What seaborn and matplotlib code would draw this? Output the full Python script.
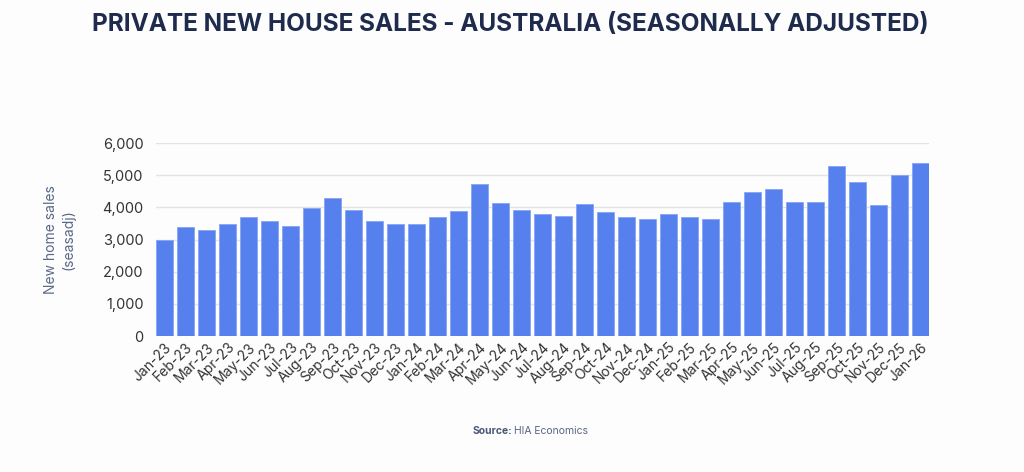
import matplotlib
matplotlib.use("Agg")
import matplotlib.pyplot as plt
import seaborn as sns
import pandas as pd

months = ["Jan-23", "Feb-23", "Mar-23", "Apr-23", "May-23", "Jun-23", "Jul-23", "Aug-23",
          "Sep-23", "Oct-23", "Nov-23", "Dec-23", "Jan-24", "Feb-24", "Mar-24", "Apr-24",
          "May-24", "Jun-24", "Jul-24", "Aug-24", "Sep-24", "Oct-24", "Nov-24", "Dec-24",
          "Jan-25", "Feb-25", "Mar-25", "Apr-25", "May-25", "Jun-25", "Jul-25", "Aug-25",
          "Sep-25", "Oct-25", "Nov-25", "Dec-25", "Jan-26"]
sales = [2990, 3390, 3280, 3480, 3690, 3580, 3430, 3990,
         4280, 3930, 3580, 3480, 3480, 3690, 3890, 4740,
         4140, 3930, 3780, 3740, 4090, 3840, 3690, 3640,
         3780, 3690, 3640, 4180, 4480, 4580, 4180, 4180,
         5290, 4790, 4080, 4990, 5390]
yticks = [0, 1000, 2000, 3000, 4000, 5000, 6000]

df = pd.DataFrame({"month": months, "sales": sales})

sns.set_theme(style="white")
plt.rcParams["font.family"] = ["Inter", "DejaVu Sans"]

fig = plt.figure(figsize=(10.24, 4.72), dpi=100)
fig.patch.set_facecolor("#fdfdfd")
ax = fig.add_axes([156 / 1024, 1 - 336 / 472, (929 - 156) / 1024, (336 - 143) / 472])
ax.set_facecolor("#fdfdfd")

sns.barplot(data=df, x="month", y="sales", color="#5580ee", width=0.82,
            saturation=1, ax=ax, zorder=3)
for p in ax.patches:
    p.set_edgecolor("#86a5f3")
    p.set_linewidth(0.6)

ax.set_ylim(0, 6000)
ax.set_xlim(-0.41, len(months) - 0.59)
ax.set_yticks(yticks)
ax.set_yticklabels([f"{v:,}" for v in yticks], fontsize=10.5, color="#333333")
ax.yaxis.grid(True, color="#e3e3e3", linewidth=1, zorder=0)
ax.set_axisbelow(True)
for s in ax.spines.values():
    s.set_visible(False)
ax.tick_params(axis="y", length=0, pad=9)
ax.tick_params(axis="x", length=0, pad=3)
ax.set_xticks(range(len(months)))
ax.set_xticklabels(months, rotation=45, ha="right", rotation_mode="anchor",
                   fontsize=10, color="#333333")
ax.set_xlabel("")
ax.set_ylabel("")

fig.text(60 / 1024, 1 - 240 / 472, "New home sales\n(seasadj)", rotation=90,
         ha="center", va="center", fontsize=10, color="#5a6888", linespacing=1.3)

fig.text(510 / 1024, 1 - 24 / 472, "PRIVATE NEW HOUSE SALES - AUSTRALIA (SEASONALLY ADJUSTED)",
         ha="center", va="center", fontsize=17.5, fontweight="bold", color="#1e2b4d")

fig.text(512 / 1024, 1 - 431 / 472, "Source:", ha="right", va="center",
         fontsize=7.5, fontweight="bold", color="#4a5676")
fig.text(514 / 1024, 1 - 431 / 472, "HIA Economics", ha="left", va="center",
         fontsize=7.5, color="#5a6686")

fig.savefig("out.png", dpi=100, facecolor=fig.get_facecolor())
